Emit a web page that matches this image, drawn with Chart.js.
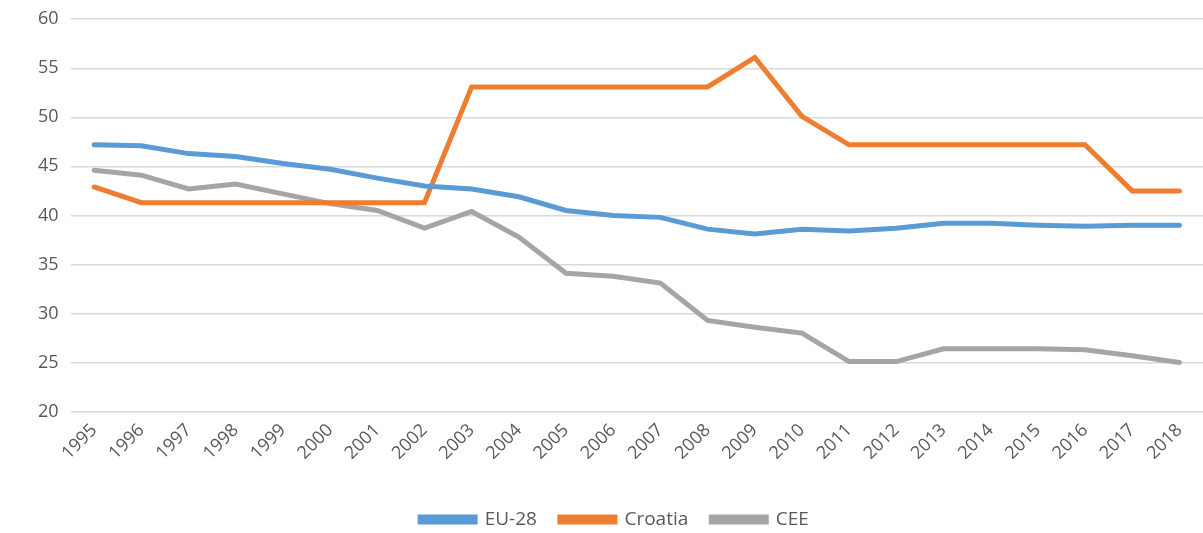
<!DOCTYPE html>
<html>
<head>
<meta charset="utf-8">
<script src="https://cdn.jsdelivr.net/npm/chart.js@4"></script>
<style>
  html, body { margin: 0; padding: 0; background: #fff; }
  #wrap { width: 1203px; height: 533px; }
</style>
</head>
<body>
<div id="wrap"><canvas id="chart1"></canvas></div>
<script>
const years = ['1995', '1996', '1997', '1998', '1999', '2000', '2001', '2002', '2003', '2004', '2005', '2006',
  '2007', '2008', '2009', '2010', '2011', '2012', '2013', '2014', '2015', '2016', '2017', '2018']

const eu28 = [47.2, 47.1, 46.3, 46.0, 45.3, 44.7, 43.8, 43.0, 42.7, 41.9, 40.5, 40.0,
  39.8, 38.6, 38.1, 38.6, 38.4, 38.7, 39.2, 39.2, 39.0, 38.9, 39.0, 39.0]

const croatia = [42.9, 41.3, 41.3, 41.3, 41.3, 41.3, 41.3, 41.3, 53.1, 53.1, 53.1, 53.1,
  53.1, 53.1, 56.1, 50.1, 47.2, 47.2, 47.2, 47.2, 47.2, 47.2, 42.5, 42.5]

const cee = [44.6, 44.1, 42.7, 43.2, 42.2, 41.2, 40.5, 38.7, 40.4, 37.8, 34.1, 33.8,
  33.1, 29.3, 28.6, 28.0, 25.1, 25.1, 26.4, 26.4, 26.4, 26.3, 25.7, 25.0]

const yTicks = { min: 20, max: 60, step: 5 }

Chart.defaults.font.family = '"Open Sans", sans-serif'
Chart.defaults.color = '#595959'

function drawChart() {
  const line = (label, data, color) => ({
    label,
    data,
    borderColor: color,
    backgroundColor: color,
    borderWidth: 5,
    pointRadius: 0,
    tension: 0,
    borderCapStyle: 'round',
    borderJoinStyle: 'miter'
  })

  const data = {
    labels: years,
    datasets: [
      line('EU-28', eu28, '#5B9BD5'),
      line('Croatia', croatia, '#ED7D31'),
      line('CEE', cee, '#A5A5A5')
    ]
  }

  const options = {
    responsive: true,
    maintainAspectRatio: false,
    animation: false,
    layout: {
      padding: { top: 0, right: 0, left: 26, bottom: -6 }
    },
    scales: {
      x: {
        offset: true,
        grid: { display: false },
        border: { display: false },
        ticks: {
          maxRotation: 45,
          minRotation: 45,
          autoSkip: false,
          font: { size: 18 },
          padding: 0
        }
      },
      y: {
        min: yTicks.min,
        max: yTicks.max,
        grid: { color: '#D9D9D9', lineWidth: 1.5, drawTicks: false },
        border: { display: false },
        ticks: {
          stepSize: yTicks.step,
          font: { size: 18, lineHeight: 0.8 },
          padding: 12
        }
      }
    },
    plugins: {
      legend: {
        display: true,
        position: 'bottom',
        title: { display: true, text: ' ', font: { size: 10 }, padding: 5.5 },
        labels: {
          boxWidth: 55,
          boxHeight: 5,
          padding: 23,
          font: { size: 19 }
        }
      },
      tooltip: { enabled: false }
    }
  }

  new Chart('chart1', {
    type: 'line',
    data,
    options
  })
}

drawChart()
</script>
</body>
</html>
